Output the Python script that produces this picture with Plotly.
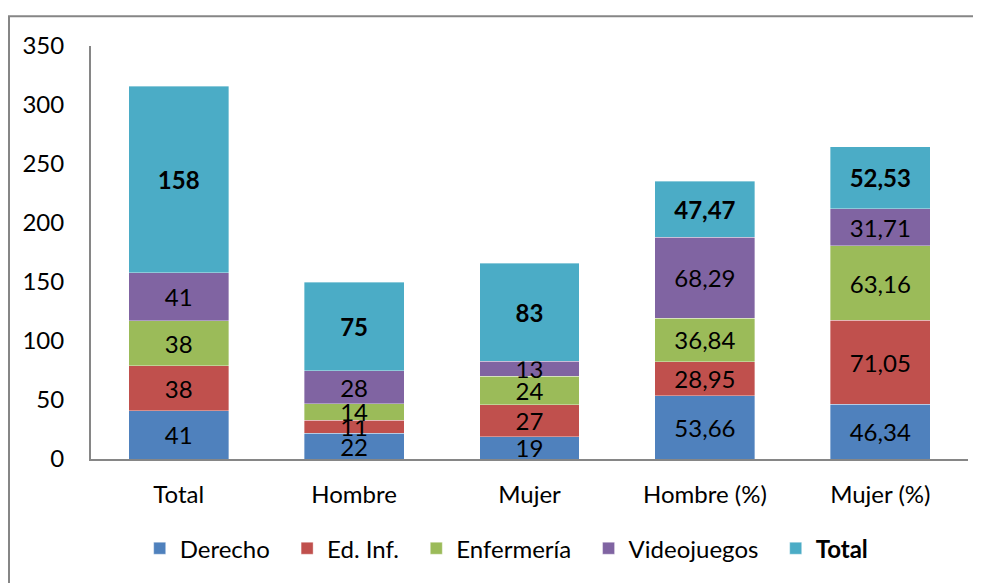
import plotly.graph_objects as go

categories = ["Total", "Hombre", "Mujer", "Hombre (%)", "Mujer (%)"]
series_names = ["Derecho", "Ed. Inf.", "Enfermería", "Videojuegos", "Total"]
derecho = [41, 22, 19, 53.66, 46.34]
ed_inf = [38, 11, 27, 28.95, 71.05]
enfermeria = [38, 14, 24, 36.84, 63.16]
videojuegos = [41, 28, 13, 68.29, 31.71]
total = [158, 75, 83, 47.47, 52.53]
y_ticks = [0, 50, 100, 150, 200, 250, 300, 350]

colors = ["#4F81BD", "#C0504D", "#9BBB59", "#8064A2", "#4BACC6"]
FONT = "Lato"
FS = 24
PAD = "\u00a0\u00a0"


def fmt(v):
    return f"{v:g}".replace(".", ",")


fig = go.Figure()
all_series = [derecho, ed_inf, enfermeria, videojuegos, total]
for i, (name, vals) in enumerate(zip(series_names, all_series)):
    bold = name == "Total"
    last = i == len(series_names) - 1
    texts = [f"<b>{fmt(v)}</b>" if bold else fmt(v) for v in vals]
    label = f"<b>{name}</b>" if bold else name
    if not last:
        label += PAD
    fig.add_trace(go.Bar(
        x=categories, y=vals, name=label,
        marker=dict(color=colors[i], line=dict(color="rgba(255,255,255,0.6)", width=0.6)),
        text=texts, textposition="inside", insidetextanchor="middle",
        textangle=0, textfont=dict(family=FONT, size=FS, color="black"),
        hoverinfo="skip",
    ))

# page body has an 8px margin: figure occupies (8..981, 8..583)
fig.update_layout(
    barmode="stack",
    bargap=0.43,
    width=973, height=575,
    margin=dict(l=83, r=13, t=38, b=122),
    paper_bgcolor="white", plot_bgcolor="white",
    font=dict(family=FONT, size=FS, color="black"),
    uniformtext=dict(minsize=FS, mode="show"),
    showlegend=True,
    legend=dict(orientation="h", x=0.474, xanchor="center", y=-0.217, yanchor="middle",
                font=dict(family=FONT, size=FS, color="black"), traceorder="normal",
                itemwidth=30),
    xaxis=dict(showline=True, linecolor="#868686", linewidth=2, ticks="",
               showgrid=False, ticklabelstandoff=13),
    yaxis=dict(range=[0, 350], tickvals=y_ticks, showline=True, linecolor="#868686",
               linewidth=2, ticks="", showgrid=False, zeroline=False,
               ticklabelstandoff=20),
    shapes=[dict(type="rect", xref="paper", yref="paper",
                 x0=(9 - 91) / 877, x1=1.2, y0=-0.6, y1=(461 - 16) / 415,
                 line=dict(color="#868686", width=2), layer="below")],
)

fig.write_html("out.html")
